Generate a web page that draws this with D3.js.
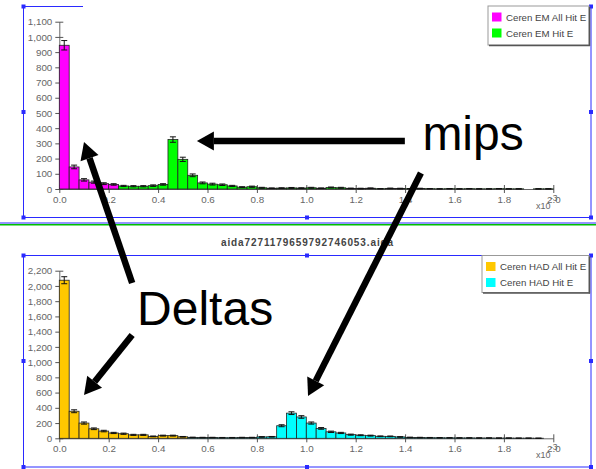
<!DOCTYPE html>
<html><head><meta charset="utf-8">
<script src="https://cdn.jsdelivr.net/npm/d3@7"></script>
<style>
body{margin:0;background:#fff}
svg{display:block}
text{font-family:"Liberation Sans",Arial,Helvetica,sans-serif}
</style>
</head><body>
<script>
// Histogram binning (energy, x10^-3)
const binWidth = 0.04;
const xTickValues = [0, 0.2, 0.4, 0.6, 0.8, 1.0, 1.2, 1.4, 1.6, 1.8, 2.0];
const emTickValues = [0, 100, 200, 300, 400, 500, 600, 700, 800, 900, 1000, 1100];
const hadTickValues = [0, 200, 400, 600, 800, 1000, 1200, 1400, 1600, 1800, 2000, 2200];

// Cerenkov EM, all hits (first bin index 0)
const emAllFirstBin = 0;
const emAllCounts = [945, 145, 60, 45, 35, 30];
const emAllErrors = [31, 12, 8, 7, 6, 5];

// Cerenkov EM hits (first bin index 6)
const emHitFirstBin = 6;
const emHitCounts = [20, 18, 18, 22, 30, 325, 195, 90, 40, 32, 28, 20, 12, 15, 8, 5, 6, 7, 6, 8, 5, 10, 8, 4, 3, 5, 2, 4, 3, 2, 3, 2, 1, 2, 1, 2, 1, 1, 2, 1, 1, 0, 1, 1];
const emHitErrors = [4, 4, 4, 5, 5, 18, 14, 9, 6, 6, 5, 4, 3, 4, 3, 2, 2, 3, 2, 3, 2, 3, 3, 2, 2, 2, 1, 2, 2, 1, 2, 1, 1, 1, 1, 1, 1, 1, 1, 1, 1, 0, 1, 1];

// Cerenkov HAD, all hits (first bin index 0)
const hadAllFirstBin = 0;
const hadAllCounts = [2075, 355, 200, 125, 95, 70, 60, 45, 45, 25, 35, 35, 20];
const hadAllErrors = [46, 19, 14, 11, 10, 8, 8, 7, 7, 5, 6, 6, 4];

// Cerenkov HAD hits (first bin index 13)
const hadHitFirstBin = 13;
const hadHitCounts = [12, 10, 10, 8, 8, 10, 10, 18, 20, 165, 330, 280, 200, 130, 85, 70, 48, 40, 35, 26, 25, 18, 12, 10, 8, 7, 6, 5, 5, 4, 4, 3, 3, 2, 2, 1, 0];
const hadHitErrors = [3, 3, 3, 3, 3, 3, 3, 4, 4, 13, 18, 17, 14, 11, 9, 8, 7, 6, 6, 5, 5, 4, 3, 3, 3, 3, 2, 2, 2, 2, 2, 2, 2, 1, 1, 1, 0];

const emLegend = ["Ceren EM All Hit E", "Ceren EM Hit E"];
const hadLegend = ["Ceren HAD All Hit E", "Ceren HAD Hit E"];
const fileTitle = "aida7271179659792746053.aida";

const COL = {em: "#ff00ff", emHit: "#00ff00", had: "#ffc800", hadHit: "#00ffff"};

function toBins(first, counts, errors) {
  return counts.map((v, i) => ({
    x0: (first + i) * binWidth,
    x1: (first + i + 1) * binWidth,
    v: v, e: errors[i]
  }));
}

const W = 596, H = 469;
const svg = d3.select("body").append("svg").attr("width", W).attr("height", H);

const x = d3.scaleLinear().domain([0, 2]).range([59.3, 553.3]);
const yEm = d3.scaleLinear().domain([0, 1100]).range([189, 21.7]);
const yHad = d3.scaleLinear().domain([0, 2200]).range([438.3, 270.7]);

const BLUE = "#2a2aff";

// Region frames with selection handles
function hline(x1, x2, y, c, w) {
  svg.append("line").attr("x1", x1).attr("x2", x2).attr("y1", y).attr("y2", y)
    .attr("stroke", c).attr("stroke-width", w || 1);
}
function vline(xp, y1, y2, c, w) {
  svg.append("line").attr("x1", xp).attr("x2", xp).attr("y1", y1).attr("y2", y2)
    .attr("stroke", c).attr("stroke-width", w || 1);
}
function handle(cx, cy) {
  svg.append("rect").attr("x", cx - 2).attr("y", cy - 2).attr("width", 4).attr("height", 4).attr("fill", BLUE);
}

// upper region
hline(23, 83, 6.5, BLUE); hline(529, 591, 6.5, BLUE);
vline(23.5, 6, 217.5, BLUE); vline(591, 6, 217.5, BLUE);
hline(23, 591, 217.5, BLUE);
[[23.5, 6.5], [23.5, 112], [23.5, 217.5], [307, 217.5], [591, 217.5], [591, 112], [591, 6.5]].forEach(p => handle(p[0], p[1]));

// divider
hline(0, W, 223, BLUE);
hline(0, W, 224.8, "#00c000", 1.6);

// lower region
hline(23, 591, 255.5, BLUE);
vline(23.5, 255.5, 467, BLUE); vline(591, 255.5, 467, BLUE);
hline(23, 591, 467, BLUE);
[[23.5, 255.5], [307, 255.5], [591, 255.5], [23.5, 361], [591, 361], [23.5, 467], [307, 467], [591, 467]].forEach(p => handle(p[0], p[1]));

// title between panels
svg.append("text").attr("x", 307.5).attr("y", 245.5).attr("text-anchor", "middle")
  .attr("font-size", 10).attr("font-weight", "bold").attr("letter-spacing", 0.9)
  .attr("fill", "#444").text(fileTitle);

function drawPanel(y, yTicks, seriesList, legendNames, legendColors, legendBox) {
  const g = svg.append("g");
  const y0 = y(0);

  // axes
  const ax = g.append("g").attr("transform", `translate(0,${y0})`)
    .call(d3.axisBottom(x).tickValues(xTickValues).tickFormat(d3.format(".1f"))
      .tickSize(4).tickSizeOuter(0).tickPadding(3));
  ax.selectAll(".tick line").attr("y1", -4);
  const ay = g.append("g").attr("transform", `translate(${x(0)},0)`)
    .call(d3.axisLeft(y).tickValues(yTicks).tickFormat(d3.format(","))
      .tickSize(4).tickSizeOuter(0).tickPadding(3));
  ay.selectAll(".tick line").attr("x1", 4);
  [ax, ay].forEach(a => {
    a.select(".domain").attr("stroke", "#666");
    a.selectAll(".tick line").attr("stroke", "#555");
    a.selectAll("text").attr("fill", "#666").attr("font-size", 9.8)
      .attr("font-family", '"Liberation Sans",Arial,sans-serif');
  });

  // bars
  seriesList.forEach(s => {
    g.append("g").selectAll("rect").data(s.bins.filter(d => d.v > 0)).join("rect")
      .attr("x", d => x(d.x0)).attr("width", d => x(d.x1) - x(d.x0))
      .attr("y", d => y(d.v)).attr("height", d => y0 - y(d.v))
      .attr("fill", s.color).attr("stroke", "#222").attr("stroke-width", 0.8);
  });
  // error bars
  seriesList.forEach(s => {
    const eg = g.append("g").attr("stroke", "#111").attr("stroke-width", 1);
    s.bins.filter(d => d.e > 0).forEach(d => {
      const cx = x((d.x0 + d.x1) / 2);
      eg.append("line").attr("x1", cx).attr("x2", cx).attr("y1", y(d.v - d.e)).attr("y2", y(d.v + d.e));
      eg.append("line").attr("x1", cx - 3).attr("x2", cx + 3).attr("y1", y(d.v - d.e)).attr("y2", y(d.v - d.e));
      eg.append("line").attr("x1", cx - 3).attr("x2", cx + 3).attr("y1", y(d.v + d.e)).attr("y2", y(d.v + d.e));
    });
  });

  // exponent label (x10^-3) beside the last tick label
  g.append("text").attr("x", 536).attr("y", y0 + 20).attr("font-size", 9).attr("fill", "#666").text("x10");
  g.append("text").attr("x", 550).attr("y", y0 + 12).attr("font-size", 8.5).attr("fill", "#666").text("-3");

  // legend
  const lg = g.append("g");
  const b = legendBox;
  lg.append("rect").attr("x", b.x).attr("y", b.y).attr("width", b.w).attr("height", b.h)
    .attr("fill", "#fff").attr("stroke", "#999");
  lg.append("line").attr("x1", b.x + b.w + 0.5).attr("x2", b.x + b.w + 0.5).attr("y1", b.y + 1).attr("y2", b.y + b.h + 1)
    .attr("stroke", "#555").attr("stroke-width", 1.5);
  lg.append("line").attr("x1", b.x + 1).attr("x2", b.x + b.w + 1).attr("y1", b.y + b.h + 0.5).attr("y2", b.y + b.h + 0.5)
    .attr("stroke", "#555").attr("stroke-width", 1.5);
  legendNames.forEach((name, i) => {
    const iy = b.y + 6.5 + i * 16;
    lg.append("rect").attr("x", b.x + 4).attr("y", iy).attr("width", 9.5).attr("height", 9)
      .attr("fill", legendColors[i]);
    lg.append("text").attr("x", b.x + 18).attr("y", iy + 8.3).attr("font-size", 9.7)
      .attr("fill", "#444").text(name);
  });
}

drawPanel(yEm, emTickValues,
  [{bins: toBins(emAllFirstBin, emAllCounts, emAllErrors), color: COL.em},
   {bins: toBins(emHitFirstBin, emHitCounts, emHitErrors), color: COL.emHit}],
  emLegend, [COL.em, COL.emHit], {x: 488, y: 6, w: 101, h: 39});

drawPanel(yHad, hadTickValues,
  [{bins: toBins(hadAllFirstBin, hadAllCounts, hadAllErrors), color: COL.had},
   {bins: toBins(hadHitFirstBin, hadHitCounts, hadHitErrors), color: COL.hadHit}],
  hadLegend, [COL.had, COL.hadHit], {x: 482, y: 255.5, w: 107, h: 37});

// Annotations: arrows and labels, placed in the coordinates of each panel
function arrow(x1, y1, x2, y2) {
  const ang = Math.atan2(y2 - y1, x2 - x1);
  const hl = 17, hw = 9.5;
  const bx = x2 - hl * Math.cos(ang), by = y2 - hl * Math.sin(ang);
  svg.append("line").attr("x1", x1).attr("y1", y1).attr("x2", bx).attr("y2", by)
    .attr("stroke", "#000").attr("stroke-width", 6.5);
  const px = -Math.sin(ang) * hw, py = Math.cos(ang) * hw;
  svg.append("path").attr("d", `M${x2},${y2}L${bx + px},${by + py}L${bx - px},${by - py}Z`).attr("fill", "#000");
}

arrow(x(1.399), yEm(316), x(0.557), yEm(316));          // mips -> EM peak
arrow(x(1.464), yEm(105), x(1.007), yHad(555));         // mips -> HAD peak
arrow(x(0.295), yHad(2039), x(0.1), yEm(309));          // Deltas -> EM low tail
arrow(x(0.295), yHad(1357), x(0.1), yHad(568));         // Deltas -> HAD low tail

svg.append("text").attr("x", x(1.47)).attr("y", yEm(256)).attr("font-size", 48).attr("fill", "#000").text("mips");
svg.append("text").attr("x", x(0.315)).attr("y", yHad(1489)).attr("font-size", 48).attr("fill", "#000").text("Deltas");
</script>
</body></html>
